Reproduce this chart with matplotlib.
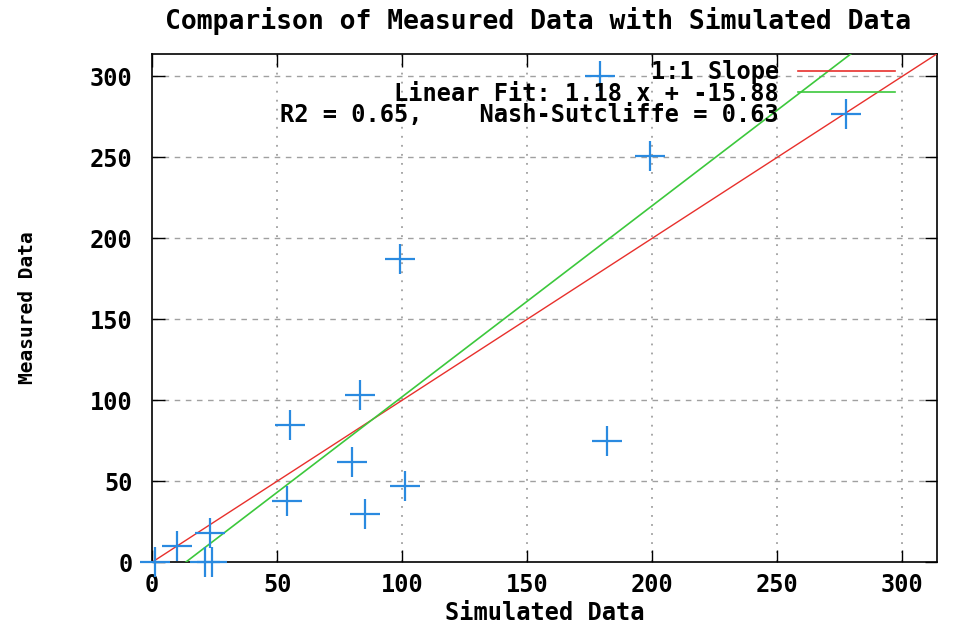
import numpy as np
import matplotlib
matplotlib.use("Agg")
import matplotlib.pyplot as plt

simulated = [1, 10, 23, 21, 24, 55, 54, 80, 83, 85, 101, 99, 182, 199, 179]
measured = [0, 10, 18, 0, 0, 85, 38, 62, 103, 30, 47, 187, 75, 251, 300]

slope = 1.18
intercept = -15.88
r2 = 0.65
nse = 0.63

ticks = [0, 50, 100, 150, 200, 250, 300]
axis_max = 314

mono = "DejaVu Sans Mono"
red = "#e8302c"
green = "#3cc83c"
blue = "#2a8ae0"

fig = plt.figure(figsize=(9.69, 6.26), dpi=100)
ax = fig.add_axes([0.157, 0.102, 0.81, 0.812])

xs = np.array([0, axis_max])
ax.plot(xs, xs, color=red, lw=1.0, label="1:1 Slope", zorder=3)
ax.plot(xs, slope * xs + intercept, color=green, lw=1.2,
        label="Linear Fit: %.2f x + %.2f" % (slope, intercept), zorder=3)
ax.plot(simulated, measured, linestyle="none", marker="+", ms=22, mew=1.6,
        color=blue, clip_on=False, zorder=4,
        label="R2 = %.2f,    Nash-Sutcliffe = %.2f" % (r2, nse))

ax.set_xlim(0, axis_max)
ax.set_ylim(0, axis_max)
ax.set_xticks(ticks)
ax.set_yticks(ticks)

# gnuplot style grid: dashed across, dotted up
for t in ticks[1:]:
    ax.axhline(t, color="#a0a0a0", lw=1.0, ls=(0, (4, 4)), zorder=1)
    ax.axvline(t, color="#a0a0a0", lw=1.3, ls=(0, (1, 4)), zorder=1)

ax.tick_params(direction="in", length=9, width=1, top=True, right=True,
               labelsize=17)
ax.tick_params(axis="y", pad=14)
ax.tick_params(axis="x", pad=8)
for lab in ax.get_xticklabels() + ax.get_yticklabels():
    lab.set_family(mono)
    lab.set_weight("bold")
for sp in ax.spines.values():
    sp.set_linewidth(1.2)

ax.set_xlabel("Simulated Data", fontsize=17, family=mono, weight="bold", labelpad=3)
ax.set_ylabel("Measured Data", fontsize=14, family=mono, weight="bold", labelpad=38)
fig.text(0.555, 0.967, "Comparison of Measured Data with Simulated Data",
         ha="center", va="center", fontsize=19, family=mono, weight="bold")

leg = ax.legend(loc="upper right", bbox_to_anchor=(0.946, 0.988), markerfirst=False,
                frameon=False, handlelength=4.1, handletextpad=0.8,
                labelspacing=-0.1, borderaxespad=0, borderpad=0,
                prop={"family": mono, "weight": "bold", "size": 17})
for h in leg.legend_handles:
    h.set_linewidth(1.2)

fig.savefig("out.png", dpi=100, facecolor="white")
